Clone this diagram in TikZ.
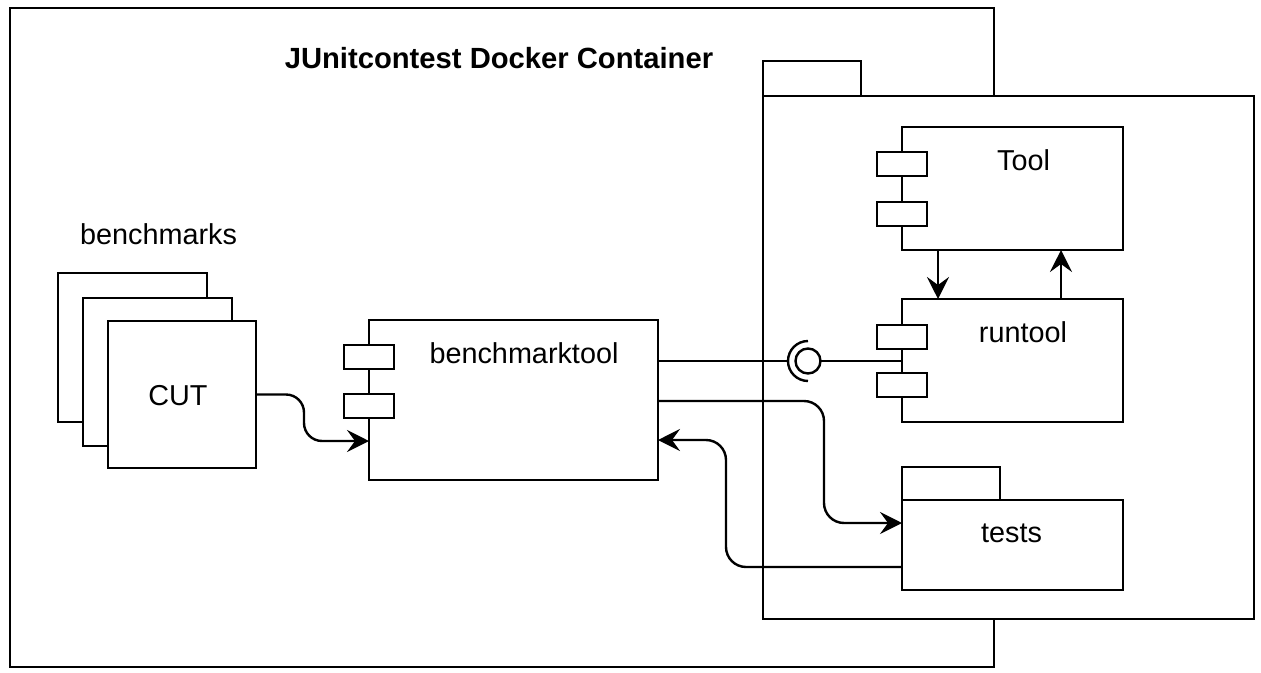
\documentclass[tikz,border=0pt]{standalone}
\usepackage{fontspec}
\setmainfont{Liberation Sans}
\usetikzlibrary{arrows.meta,calc}
\begin{document}
\begin{tikzpicture}[x=1pt,y=-1pt,
  box/.style={draw, line width=2.4pt, fill=white, inner sep=0pt, outer sep=0pt, anchor=north west},
  lbl/.style={font=\fontsize{28.8}{34}\selectfont, inner sep=0pt, anchor=base},
  conn/.style={line width=2.4pt},
  arr/.style={conn, -{Stealth[length=22pt,width=22pt,inset=8pt]}}]
\useasboundingbox (0,0) rectangle (1261,672);
% outer container
\node[box, fill=none, minimum width=984pt, minimum height=659pt] (outer) at (10,8) {};
\node[lbl, font=\fontsize{29.2}{34}\selectfont\bfseries] (title) at (499,68) {JUnitcontest Docker Container};
% inner package
\node[box, minimum width=98pt, minimum height=35pt] (pkgtab) at (763,61) {};
\node[box, minimum width=491pt, minimum height=523pt] (pkg) at (763,96) {};
% benchmarks stack
\node[lbl] (benchlbl) at (158.5,244) {benchmarks};
\node[box, minimum width=149pt, minimum height=149pt] (b1) at (58,273) {};
\node[box, minimum width=149pt, minimum height=148pt] (b2) at (83,298) {};
\node[box, minimum width=148pt, minimum height=147pt] (cut) at (108,321) {};
\node[lbl] (cutlbl) at (178,405) {CUT};
% benchmarktool
\node[box, minimum width=289pt, minimum height=160pt] (bt) at (369,320) {};
\node[box, minimum width=50pt, minimum height=24pt] (btp1) at (344,345) {};
\node[box, minimum width=50pt, minimum height=24pt] (btp2) at (344,394) {};
\node[lbl] (btlbl) at (524,363) {benchmarktool};
% Tool
\node[box, minimum width=221pt, minimum height=123pt] (tool) at (902,127) {};
\node[box, minimum width=50pt, minimum height=24pt] (toolp1) at (877,152) {};
\node[box, minimum width=50pt, minimum height=24pt] (toolp2) at (877,202) {};
\node[lbl] (toollbl) at (1023.5,170) {Tool};
% runtool
\node[box, minimum width=221pt, minimum height=123pt] (runtool) at (902,299) {};
\node[box, minimum width=50pt, minimum height=24pt] (rtp1) at (877,325) {};
\node[box, minimum width=50pt, minimum height=24pt] (rtp2) at (877,373) {};
\node[lbl] (rtlbl) at (1023,342) {runtool};
% tests package
\node[box, minimum width=98pt, minimum height=33pt] (teststab) at (902,467) {};
\node[box, minimum width=221pt, minimum height=90pt] (tests) at (902,500) {};
\node[lbl] (testslbl) at (1011.5,542) {tests};
% ball and socket
\node[draw, circle, line width=2.4pt, minimum size=25pt, inner sep=0pt, outer sep=0pt] (ball) at (808,361) {};
\coordinate (sock) at (788,361);
\draw[conn] (808,381) arc[start angle=90, end angle=270, radius=20];
\draw[conn] (bt.east |- sock) -- (sock);
\draw[conn] (ball.east) -- (ball.east -| runtool.west);
% connectors
\draw[arr, rounded corners=18pt] (cut.east) -- ++(48,0) |- ($(bt.north west)+(0,121)$);
\draw[arr, rounded corners=20pt] ($(bt.north east)+(0,81)$) -| ($(tests.north west)+(-78,23)$) -- ($(tests.north west)+(0,23)$);
\draw[arr, rounded corners=20pt] ($(tests.north west)+(0,67)$) -| ($(bt.north east)+(68,120)$) -- ($(bt.north east)+(0,120)$);
\draw[arr] ($(tool.south west)+(36,0)$) -- ($(runtool.north west)+(36,0)$);
\draw[arr] ($(runtool.north west)+(159,0)$) -- ($(tool.south west)+(159,0)$);
\end{tikzpicture}
\end{document}
